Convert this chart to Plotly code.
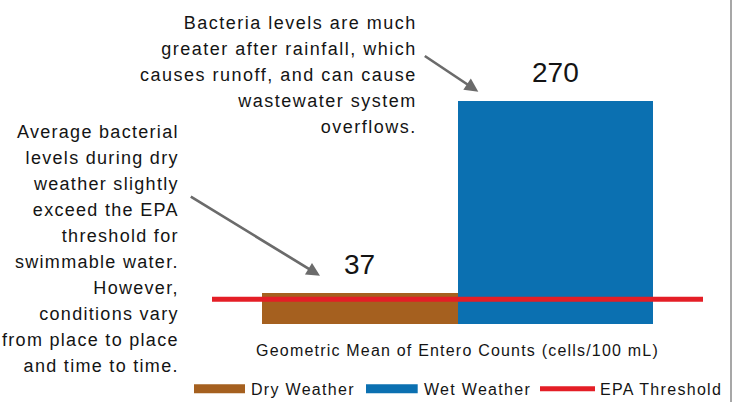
import plotly.graph_objects as go

# ---------------- data ----------------
categories = ["Dry Weather", "Wet Weather"]
values = [37, 270]
epa_threshold = 30
epa_label = "EPA Threshold"
axis_label = "Geometric Mean of Entero Counts (cells/100 mL)"
note_wet = ["Bacteria levels are much", "greater after rainfall, which",
            "causes runoff, and can cause", "wastewater system", "overflows."]
note_dry = ["Average bacterial", "levels during dry", "weather slightly",
            "exceed the EPA", "threshold for", "swimmable water.", "However,",
            "conditions vary", "from place to place", "and time to time."]

# ---------------- style ----------------
W, H = 741, 402
# plot area in window pixels
PL, PR, PT, PB = 212, 703, 10, 324
ML, MR, MT, MB = PL, W - PR, PT, H - PB
PW = PR - PL
PH = PB - PT
FONT = "Liberation Sans, Arial, sans-serif"
TXT = "#141414"
bar_colors = ["#A5601F", "#0B70B1"]
RED = "#E41E26"
ARROW = "#6b6b6b"
PAD = 0.2558          # empty space beside bars, in bar widths
YMAX = 380


def fx(px):
    """window pixel x -> paper x"""
    return (px - PL) / PW


def fy(py):
    """window pixel y -> paper y"""
    return (PB - py) / PH


def spaced(lines, size, ls):
    return "<br>".join(
        f"<span style='font-size:{size}px;letter-spacing:{ls}px'>{s}</span>" for s in lines)


fig = go.Figure()
fig.add_trace(go.Bar(
    x=list(range(len(categories))), y=values, width=1,
    marker=dict(color=bar_colors, line=dict(width=0)),
    name="", showlegend=False, hoverinfo="skip"))

annotations = []
shapes = []

# EPA threshold line across the plot
shapes.append(dict(type="line", xref="paper", yref="y", x0=0, x1=1,
                   y0=epa_threshold, y1=epa_threshold, layer="above",
                   line=dict(color=RED, width=5)))

# value labels
for i, v in enumerate(values):
    annotations.append(dict(x=i, y=v, xref="x", yref="y", text=str(v), showarrow=False,
                            yanchor="bottom", yshift=11,
                            font=dict(size=28, color=TXT, family=FONT)))
# callouts
annotations.append(dict(x=fx(419), y=fy(10.7), xref="paper", yref="paper",
                        text=spaced(note_wet, 18, 1.5), showarrow=False,
                        xanchor="right", yanchor="top", align="right",
                        font=dict(size=20, color=TXT, family=FONT)))
annotations.append(dict(x=fx(180.7), y=fy(119.5), xref="paper", yref="paper",
                        text=spaced(note_dry, 18, 1.3), showarrow=False,
                        xanchor="right", yanchor="top", align="right",
                        font=dict(size=20, color=TXT, family=FONT)))
# arrows
for tip, tail in [((478.3, 91.7), (423.3, 55.0)), ((320.0, 275.7), (189.3, 195.7))]:
    annotations.append(dict(x=fx(tip[0]), y=fy(tip[1]), xref="paper", yref="paper",
                            text="", showarrow=True, arrowhead=2, arrowsize=1,
                            arrowwidth=2.7, arrowcolor=ARROW, standoff=0,
                            ax=tail[0] - tip[0], ay=tail[1] - tip[1]))

# custom legend
legend_items = [(categories[0], "bar", bar_colors[0], 194, 245, 250),
                (categories[1], "bar", bar_colors[1], 366, 417.7, 423.3),
                (epa_label, "line", RED, 540, 595, 599)]
for label, kind, color, x0, x1, tx in legend_items:
    if kind == "bar":
        shapes.append(dict(type="rect", xref="paper", yref="paper",
                           x0=fx(x0), x1=fx(x1), y0=fy(393.3), y1=fy(384.3),
                           fillcolor=color, line=dict(width=0)))
    else:
        shapes.append(dict(type="line", xref="paper", yref="paper",
                           x0=fx(x0), x1=fx(x1), y0=fy(388.7), y1=fy(388.7),
                           line=dict(color=color, width=5)))
    annotations.append(dict(x=fx(tx - 1), y=fy(379.5), xref="paper", yref="paper",
                            text=spaced([label], 16, 1.3), showarrow=False,
                            xanchor="left", yanchor="top",
                            font=dict(size=16, color=TXT, family=FONT)))

# right border line
shapes.append(dict(type="line", xref="paper", yref="paper",
                   x0=fx(731), x1=fx(731), y0=fy(H), y1=fy(0),
                   line=dict(color="#8a8a8a", width=1.5)))

fig.update_layout(
    width=W, height=H,
    margin=dict(l=ML, r=MR, t=MT, b=MB, pad=0),
    paper_bgcolor="white", plot_bgcolor="white",
    font=dict(family=FONT, color=TXT),
    showlegend=False,
    bargap=0,
    annotations=annotations,
    shapes=shapes,
    xaxis=dict(range=[-0.5 - PAD, len(categories) - 0.5 + PAD],
               tickvals=[(len(categories) - 1) / 2],
               ticktext=[spaced([axis_label], 16, 1.2)],
               tickfont=dict(size=16, color=TXT, family=FONT),
               ticks="", showline=False, showgrid=False, zeroline=False,
               ticklabelstandoff=15, fixedrange=True),
    yaxis=dict(range=[0, YMAX], visible=False, fixedrange=True),
)

fig.write_html("out.html",
               config={"displayModeBar": False, "staticPlot": True},
               post_script="document.body.style.margin='0px';"
                           "document.body.style.overflow='hidden';")
